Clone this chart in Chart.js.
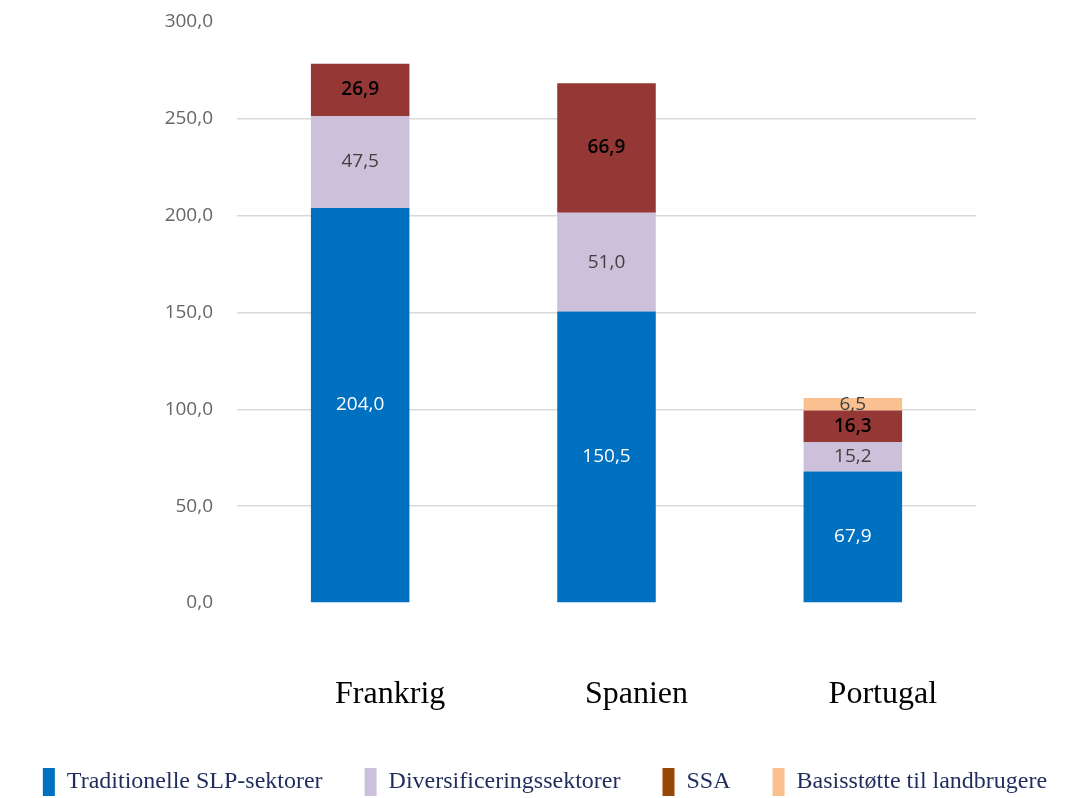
<!DOCTYPE html>
<html>
<head>
<meta charset="utf-8">
<script src="https://cdn.jsdelivr.net/npm/chart.js@4"></script>
<style>
  html, body { margin: 0; padding: 0; background: #fff; }
  #wrap { width: 1090px; height: 798px; }
</style>
</head>
<body>
<div id="wrap"><canvas id="chart" width="1090" height="798"></canvas></div>
<script>
const countries = ["Frankrig", "Spanien", "Portugal"];
const traditionelle = [204.0, 150.5, 67.9];
const diversificering = [47.5, 51.0, 15.2];
const ssa = [26.9, 66.9, 16.3];
const basisstotte = [null, null, 6.5];
const yTicks = [0, 50, 100, 150, 200, 250, 300];

const fmt = (v) => v.toFixed(1).replace(".", ",");

// writes the value in the middle of each stacked segment
const segmentLabels = {
  id: "segmentLabels",
  afterDatasetsDraw(chart) {
    const ctx = chart.ctx;
    chart.data.datasets.forEach((ds, i) => {
      const meta = chart.getDatasetMeta(i);
      meta.data.forEach((bar, j) => {
        const v = ds.data[j];
        if (v == null) return;
        const mid = (bar.y + bar.base) / 2;
        ctx.save();
        ctx.font = ds.labelFont;
        ctx.fillStyle = ds.labelColor;
        ctx.textAlign = "center";
        ctx.textBaseline = "middle";
        ctx.fillText(fmt(v), bar.x, mid);
        ctx.restore();
      });
    });
  },
};

const legendColors = ["#0070C0", "#CCC0DA", "#974706", "#FAC090"];

new Chart(document.getElementById("chart"), {
  type: "bar",
  data: {
    labels: countries,
    datasets: [
      {
        label: "Traditionelle SLP-sektorer",
        data: traditionelle,
        backgroundColor: "#0070C0",
        labelColor: "#ffffff",
        labelFont: "19px 'Open Sans'",
      },
      {
        label: "Diversificeringssektorer",
        data: diversificering,
        backgroundColor: "#CCC0DA",
        labelColor: "#404040",
        labelFont: "19px 'Open Sans'",
      },
      {
        label: "SSA",
        data: ssa,
        backgroundColor: "#953735",
        labelColor: "#000000",
        labelFont: "600 19px 'Open Sans'",
      },
      {
        label: "Basisstøtte til landbrugere",
        data: basisstotte,
        backgroundColor: "#FAC090",
        labelColor: "#404040",
        labelFont: "19px 'Open Sans'",
      },
    ],
  },
  options: {
    responsive: false,
    animation: false,
    layout: { padding: { left: 0, right: 0, top: 22, bottom: -8 } },
    datasets: {
      bar: { barPercentage: 0.8, categoryPercentage: 0.5 },
    },
    scales: {
      x: {
        stacked: true,
        grid: { display: false },
        border: { display: false },
        afterFit: (axis) => {
          axis.height = 123;
        },
        ticks: {
          color: "#000000",
          font: { family: "'Liberation Serif'", size: 32 },
          padding: 64,
          labelOffset: 30,
        },
      },
      y: {
        stacked: true,
        min: 0,
        max: 300,
        afterBuildTicks: (axis) => {
          axis.ticks = yTicks.map((v) => ({ value: v }));
        },
        afterFit: (axis) => {
          axis.width = 237;
          axis.paddingTop = 0;
          axis.paddingBottom = 0;
        },
        grid: {
          drawTicks: false,
          color: (c) =>
            c.tick.value === 0 || c.tick.value === 300 ? "rgba(0,0,0,0)" : "#d9d9d9",
          lineWidth: 1.5,
        },
        border: { display: false },
        ticks: {
          color: "#666666",
          font: { family: "'Open Sans'", size: 19 },
          padding: 24,
          callback: (v) => fmt(v),
        },
      },
      // empty right axis, only keeps the right margin of the plot
      yRight: {
        position: "right",
        display: true,
        grid: { display: false },
        border: { display: false },
        ticks: { display: false },
        afterFit: (axis) => {
          axis.width = 114;
          axis.paddingTop = 0;
          axis.paddingBottom = 0;
        },
      },
    },
    plugins: {
      tooltip: { enabled: false },
      legend: {
        position: "bottom",
        labels: {
          boxWidth: 12,
          boxHeight: 28,
          padding: 42,
          color: "#1F2D5C",
          font: { family: "'Liberation Serif'", size: 24 },
          generateLabels: (chart) =>
            chart.data.datasets.map((ds, i) => ({
              text: ds.label,
              fillStyle: legendColors[i],
              strokeStyle: legendColors[i],
              lineWidth: 0,
              fontColor: "#1F2D5C",
              datasetIndex: i,
            })),
        },
      },
    },
  },
  plugins: [segmentLabels],
});
</script>
</body>
</html>
